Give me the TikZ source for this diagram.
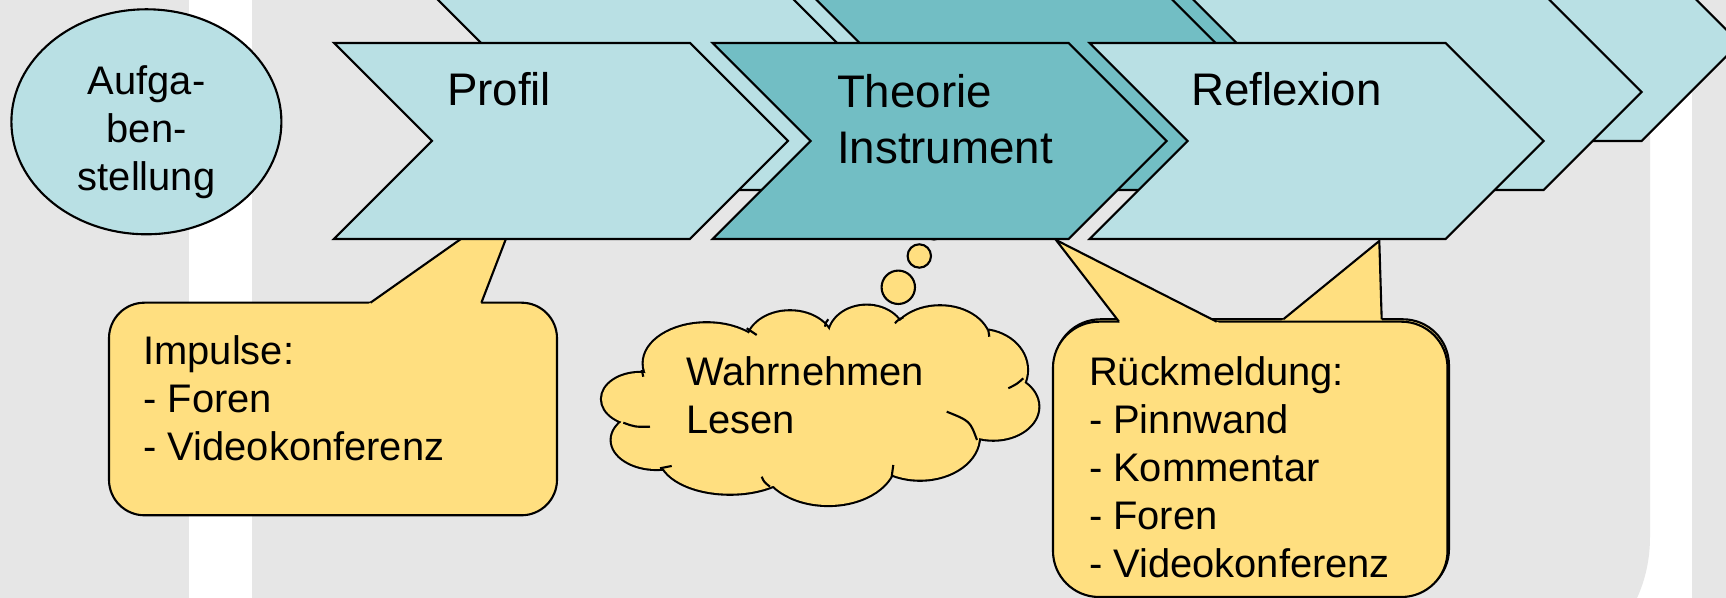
\documentclass[tikz,border=0pt]{standalone}
\usepackage{fontspec}
\setmainfont{Liberation Sans}
\usepackage{tikz}
\usetikzlibrary{shapes.geometric}

\definecolor{grau}{RGB}{230,230,230}
\definecolor{hell}{RGB}{185,224,228}
\definecolor{dunkel}{RGB}{114,190,196}
\definecolor{gelb}{RGB}{255,223,128}

\begin{document}
\begin{tikzpicture}[x=0.1mm, y=-0.1mm, line width=0.6pt,
  gross/.style={font=\fontsize{13}{15.85}\selectfont, inner sep=0, align=left},
  klein/.style={font=\fontsize{11.35}{13.7}\selectfont, inner sep=0, align=left},
  blase/.style={fill=gelb, draw=black}]

\useasboundingbox (0,0) rectangle (1726,598);
\clip (0,0) rectangle (1726,598);

% hintergrund
\fill [white] (0,0) rectangle (1726,598);
\fill [grau] (0,0) rectangle (189,598);
\fill [grau] (252,0) -- (1650,0) -- (1650,537) .. controls (1650,558) and (1645.8,578.8) .. (1637,598) -- (252,598) -- cycle;
\fill [grau] (1692,0) rectangle (1726,598);

% aufgabe
\node [ellipse, blase, fill=hell, minimum width=27mm, minimum height=22.5mm, inner sep=0] (aufgabe) at (146.4,121.8) {};
\node [klein, align=center, anchor=north] (aufgabetext) at (146.6,64.3) {Aufga-\\ben-\\stellung};

% impulse
\draw [blase, rounded corners=3.55mm] (109,302.7) rectangle (557,515.3);
\fill [gelb] (367.2,305) -- (522.6,195.5) -- (480.5,305) -- cycle;
\draw (370.5,302.7) -- (522.6,195.5) -- (481.4,302.7);
\node [klein, anchor=north west] (impulse) at (142.4,334.1) {Impulse:\\- Foren\\- Videokonferenz};

% rueckmeldung
\draw [blase, rounded corners=4.6mm] (1054.5,319.3) rectangle (1449,595);
\fill [gelb] (1280.5,321.6) -- (1379.3,241) -- (1381.8,321.6) -- cycle;
\draw (1283.3,319.3) -- (1379.3,241) -- (1381.7,319.3);
\draw [blase, rounded corners=4.6mm] (1053,321.7) rectangle (1447.5,597);
\fill [gelb] (1120.8,324) -- (1056,240) -- (1221.2,324) -- cycle;
\draw (1119,321.7) -- (1056,240) -- (1216.7,321.7);
\node [klein, anchor=north west] (rueckmeldung) at (1088,355.4) {R\"uckmeldung:\\- Pinnwand\\- Kommentar\\- Foren\\- Videokonferenz};

% gedanke
\filldraw [blase] (934,233) circle (6.5);
\filldraw [blase] (919.3,256) circle (11.7);
\filldraw [blase] (898.3,287.3) circle (16.7);
\draw [line width=1.2pt] (640,399) ellipse (38 and 26) (656.7,440) ellipse (45 and 29) (730,456.7) ellipse (70 and 37)
  (828.3,460) ellipse (67 and 45) (920,436.7) ellipse (59 and 43) (993.3,406.7) ellipse (45 and 33) (980,370) ellipse (47 and 40)
  (940,343.3) ellipse (50 and 37) (866.7,336.7) ellipse (38 and 31) (790,343.3) ellipse (43 and 32) (706.7,363.3) ellipse (63 and 40);
\fill [gelb] (640,399) ellipse (38 and 26) (656.7,440) ellipse (45 and 29) (730,456.7) ellipse (70 and 37)
  (828.3,460) ellipse (67 and 45) (920,436.7) ellipse (59 and 43) (993.3,406.7) ellipse (45 and 33) (980,370) ellipse (47 and 40)
  (940,343.3) ellipse (50 and 37) (866.7,336.7) ellipse (38 and 31) (790,343.3) ellipse (43 and 32) (706.7,363.3) ellipse (63 and 40)
  (820,405) ellipse (160 and 65);
% falten
\draw (623.3,422.7) .. controls (635,427) .. (650,426.7);
\draw (660,468.3) .. controls (666,467.5) .. (671.7,466);
\draw (761.7,476.7) .. controls (764,482) .. (770,486.7);
\draw (893.3,465) .. controls (893,471) .. (891.7,476.7);
\draw (946.7,411.7) .. controls (970,421) .. (977,440);
\draw (1008.3,388.3) .. controls (1017,384) .. (1023.3,378.3);
\draw (988.3,330) .. controls (989,333) .. (989.3,336.7);
\draw (895,323.3) .. controls (898,320) .. (903.3,317.3);
\draw (825,326.7) .. controls (826,322) .. (828.3,319.3);
\draw (746.7,328.3) .. controls (752,331) .. (756.7,335);
\draw (641.7,370) .. controls (642,373) .. (643.3,376.7);
\node [klein, anchor=north west] (wolke) at (685,355.7) {Wahrnehmen\\Lesen};

% hintere reihe 2
\filldraw [fill=hell] (530,-55) -- ++(356,0) -- ++(98,98) -- ++(-98,98) -- ++(-356,0) -- ++(98,-98) -- cycle;
\filldraw [fill=dunkel] (908.6,-55) -- ++(356,0) -- ++(98,98) -- ++(-98,98) -- ++(-356,0) -- ++(98,-98) -- cycle;
\filldraw [fill=hell] (1285.6,-55) -- ++(356,0) -- ++(98,98) -- ++(-98,98) -- ++(-356,0) -- ++(98,-98) -- cycle;
% hintere reihe 1
\filldraw [fill=hell] (432,-6) -- ++(356,0) -- ++(98,98) -- ++(-98,98) -- ++(-356,0) -- ++(98,-98) -- cycle;
\filldraw [fill=dunkel] (810.6,-6) -- ++(356,0) -- ++(98,98) -- ++(-98,98) -- ++(-356,0) -- ++(98,-98) -- cycle;
\filldraw [fill=hell] (1187.6,-6) -- ++(356,0) -- ++(98,98) -- ++(-98,98) -- ++(-356,0) -- ++(98,-98) -- cycle;
% vordere reihe
\filldraw [fill=hell] (334,43) -- ++(356,0) -- ++(98,98) -- ++(-98,98) -- ++(-356,0) -- ++(98,-98) -- cycle;
\filldraw [fill=dunkel] (712.6,43) -- ++(356,0) -- ++(98,98) -- ++(-98,98) -- ++(-356,0) -- ++(98,-98) -- cycle;
\filldraw [fill=hell] (1089.6,43) -- ++(356,0) -- ++(98,98) -- ++(-98,98) -- ++(-356,0) -- ++(98,-98) -- cycle;

\node [gross, anchor=base west] (profil) at (446,106) {Profil};
\node [gross, anchor=north west] (theorie) at (836,73.3) {Theorie\\Instrument};
\node [gross, anchor=base west] (reflexion) at (1190,106) {Reflexion};

\end{tikzpicture}
\end{document}
